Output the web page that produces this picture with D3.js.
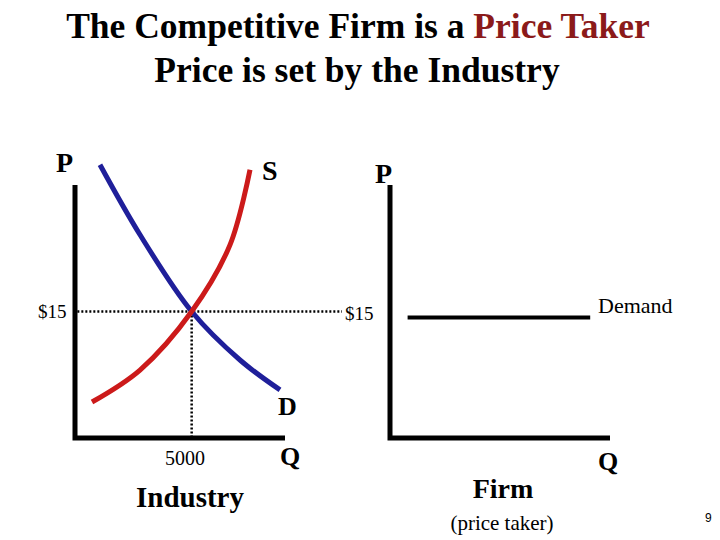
<!DOCTYPE html>
<html><head><meta charset="utf-8">
<script src="https://cdn.jsdelivr.net/npm/d3@7"></script>
<style>body{margin:0;background:#fff}text{font-family:"Liberation Serif","Times New Roman",serif;font-weight:bold}</style>
</head><body><svg id="c" width="720" height="540"></svg>
<script>
const demandQ=[1070,2786,5000,7071,8786];
const demandP=[32.4,24.1,15,9.25,5.7];
const supplyQ=[729,2786,5000,6643,7500];
const supplyP=[4.27,8.06,15,22.9,31.8];
const eqQ=5000, eqP=15;
const firmP=14.3, firmQ=[8,91];

const svg=d3.select("#c");
const xI=d3.scaleLinear().domain([0,9000]).range([75,285]);
const yP=d3.scaleLinear().domain([0,30]).range([438,185]);
const xF=d3.scaleLinear().domain([0,100]).range([390,610]);

const t1=svg.append("text").attr("x",358).attr("y",38).attr("text-anchor","middle").attr("font-size",35.5);
t1.append("tspan").text("The Competitive Firm is a ");
t1.append("tspan").attr("fill","#8b1a1a").text("Price Taker");
svg.append("text").attr("x",357).attr("y",82).attr("text-anchor","middle").attr("font-size",35.5).text("Price is set by the Industry");

svg.append("line").attr("x1",xI(100)).attr("x2",342).attr("y1",yP(eqP)).attr("y2",yP(eqP)).attr("stroke","#000").attr("stroke-width",2.5).attr("stroke-dasharray","2,2");
svg.append("line").attr("x1",xI(eqQ)).attr("x2",xI(eqQ)).attr("y1",yP(eqP)).attr("y2",436).attr("stroke","#000").attr("stroke-width",2.5).attr("stroke-dasharray","2,2");

const ax=(x0,x1)=>svg.append("path").attr("d",`M${x0},${yP(30)}V${yP(0)}H${x1}`).attr("fill","none").attr("stroke","#000").attr("stroke-width",5);
ax(xI(0),xI(9000)); ax(xF(0),xF(100));

const line=d3.line().curve(d3.curveCatmullRom);
svg.append("path").attr("d",line(demandQ.map((q,i)=>[xI(q),yP(demandP[i])]))).attr("fill","none").attr("stroke","#1f1f9a").attr("stroke-width",5);
svg.append("path").attr("d",line(supplyQ.map((q,i)=>[xI(q),yP(supplyP[i])]))).attr("fill","none").attr("stroke","#cc1a1a").attr("stroke-width",5);

svg.append("line").attr("x1",xF(firmQ[0])).attr("x2",xF(firmQ[1])).attr("y1",yP(firmP)).attr("y2",yP(firmP)).attr("stroke","#000").attr("stroke-width",4);

const lab=(x,y,s,t,anchor="start",w="bold",fam)=>{const e=svg.append("text").attr("x",x).attr("y",y).attr("font-size",s).attr("text-anchor",anchor).style("font-weight",w).text(t);if(fam)e.style("font-family",fam);return e;};
lab(56,172,28,"P");
lab(262,180,28,"S");
lab(375,183,28,"P");
lab(38,318,19,"$15","start","normal");
lab(345,320,19,"$15","start","normal");
lab(598,313,22,"Demand","start","normal");
lab(278,415,26,"D");
lab(165,465,20,"5000","start","normal");
lab(280,465,26,"Q");
lab(190,507,29,"Industry","middle");
lab(503,498,28,"Firm","middle");
lab(502,530,21,"(price taker)","middle","normal");
lab(598,470,26,"Q");
lab(705,522,12,"9","start","normal","Liberation Sans");
</script></body></html>
